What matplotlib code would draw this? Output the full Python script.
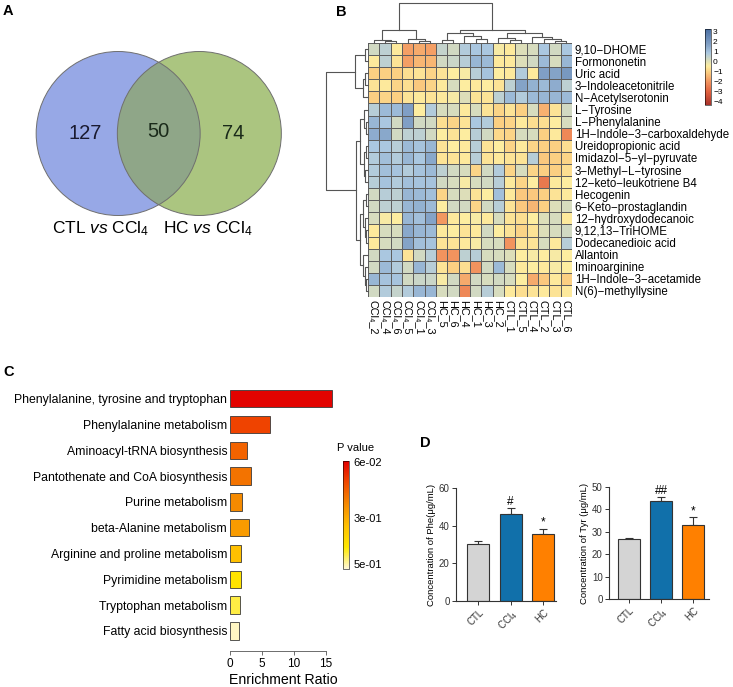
import numpy as np
import matplotlib
matplotlib.use('Agg')
import matplotlib.pyplot as plt
from matplotlib.patches import Circle
from matplotlib.colors import LinearSegmentedColormap, Normalize
import matplotlib.colorbar as mcolorbar

plt.rcParams['font.family'] = ['Liberation Sans', 'DejaVu Sans']
plt.rcParams['mathtext.fontset'] = 'custom'
plt.rcParams['mathtext.rm'] = 'Liberation Sans'
plt.rcParams['mathtext.it'] = 'Liberation Sans:italic'

# ---------------- data ----------------
venn_names = ['CTL $\\it{vs}$ CCl$_4$', 'HC $\\it{vs}$ CCl$_4$']
venn_counts = [127, 50, 74]   # left only, shared, right only

heat_rows = ['9,10-DHOME', 'Formononetin', 'Uric acid', '3-Indoleacetonitrile',
             'N-Acetylserotonin', 'L-Tyrosine', 'L-Phenylalanine',
             '1H-Indole-3-carboxaldehyde', 'Ureidopropionic acid',
             'Imidazol-5-yl-pyruvate', '3-Methyl-L-tyrosine',
             '12-keto-leukotriene B4', 'Hecogenin', '6-Keto-prostaglandin',
             '12-hydroxydodecanoic', '9,12,13-TriHOME', 'Dodecanedioic acid',
             'Allantoin', 'Iminoarginine', '1H-Indole-3-acetamide',
             'N(6)-methyllysine']
heat_cols = ['CCl\u2084_2', 'CCl\u2084_4', 'CCl\u2084_6', 'CCl\u2084_5', 'CCl\u2084_1', 'CCl\u2084_3',
             'HC_5', 'HC_6', 'HC_4', 'HC_1', 'HC_3', 'HC_2',
             'CTL_1', 'CTL_5', 'CTL_4', 'CTL_2', 'CTL_3', 'CTL_6']
heat_vals = np.array([
    [0.3, 0.6, -0.5, -1.8, -1.6, -1.8, 0.5, 0.3, 0.8, 0.9, 0.9, -0.3, -0.5, 0.1, 0.2, 0.9, 0.3, 0.9],
    [-0.5, 0.6, -0.6, -1.8, -1.4, -1.4, 0.3, 0.4, 0.7, 1.3, 1.2, -0.5, -0.5, 0.1, 0.3, 1.2, 0.2, 1.3],
    [-1.0, -1.0, -1.0, -0.7, -0.6, -0.9, -0.6, -0.4, -0.3, 0.7, 1.0, -0.4, -0.5, 0.8, -0.5, 1.8, 1.7, 2.0],
    [-0.6, -0.5, -0.9, -0.7, -1.1, -0.9, -0.5, 0.2, -0.4, -0.5, -0.4, -0.6, 0.6, 1.7, 1.4, 1.2, 1.5, 0.6],
    [-1.0, -0.9, -1.0, -0.6, -0.5, -0.6, -0.5, -0.3, 0.1, -0.6, -0.6, 0.6, 1.2, 0.8, 1.2, 1.3, 1.3, 1.2],
    [0.7, 1.2, 1.2, 1.8, -0.4, 0.8, 0.2, 0.2, -0.5, 0.2, -0.6, -0.9, -0.6, -1.0, 0.2, -1.5, -0.6, 0.3],
    [1.3, 0.9, 0.3, 1.8, 0.3, 0.3, -0.7, -0.9, -0.6, 0.9, 0.8, -1.0, -0.9, -0.5, -0.7, -0.7, -0.4, 0.2],
    [1.5, 1.6, 0.3, 0.6, 0.6, 0.3, -0.4, -0.6, -0.4, 0.7, 0.3, -0.8, -0.9, 0.2, 0.2, -1.0, -0.5, -2.2],
    [0.9, 0.9, 0.7, 1.2, 1.0, 1.3, -0.6, -0.4, -0.5, 0.7, -0.6, -0.4, -0.9, -0.5, -0.9, -1.0, -1.0, -0.7],
    [0.8, 1.1, 0.8, 1.3, 0.9, 1.6, -0.6, -0.6, -0.5, 0.7, -0.6, -0.5, -0.6, -0.6, 0.7, -1.1, -1.0, -0.9],
    [0.8, 1.1, 1.0, 0.8, 1.0, 1.2, 0.6, 0.3, 0.2, -0.9, 0.3, 0.8, -0.9, 0.2, -0.9, -1.0, -1.0, -0.7],
    [0.7, 1.0, 0.8, 1.1, 1.0, 1.0, 0.3, 0.2, -0.3, 0.2, 0.3, 0.7, -0.5, -0.9, -0.4, -2.5, -0.5, -0.4],
    [0.3, 0.7, 0.6, 1.3, 1.2, 1.1, -0.9, 0.2, 0.1, -0.6, -0.4, 1.1, -0.5, -1.1, -1.1, -1.0, -0.6, -0.5],
    [0.3, 0.6, 0.6, 1.3, 1.4, 1.2, -0.4, 0.3, 0.3, -0.9, 0.3, 0.7, -0.6, -1.1, -1.4, -1.0, 0.1, 0.2],
    [0.2, -0.3, -0.4, 1.3, 1.1, 1.7, -1.9, -0.5, -0.4, -0.3, -0.5, 0.2, -0.6, -0.7, -0.4, 0.1, 0.2, -0.5],
    [-0.5, 0.2, 0.2, 1.6, 1.3, 1.2, -0.5, -0.4, -0.6, -0.5, 0.3, -0.4, -0.6, -0.9, -0.6, 0.1, 0.2, 0.3],
    [-0.5, 0.2, 0.3, 1.7, 1.1, 1.0, -0.6, -0.6, -0.5, -0.3, 0.2, 0.2, -2.0, -0.6, -0.6, 0.2, -0.5, 0.7],
    [0.3, 0.9, 0.9, -0.6, 0.3, 0.7, -2.0, -2.0, 0.6, 0.7, 0.2, 0.2, 0.1, -0.4, -0.3, -0.4, -0.3, -0.4],
    [0.3, 1.2, 0.8, 0.3, 1.3, 0.7, -0.6, -1.0, -0.7, -2.0, 0.3, 1.2, 0.2, -0.5, -0.4, -0.5, -0.3, -0.4],
    [1.3, 1.0, 1.0, 0.3, 0.4, 0.4, -0.3, 0.3, -1.6, 0.3, 0.2, 0.3, 0.2, -0.4, -1.6, -1.1, -0.5, -1.0],
    [0.3, 0.8, 0.5, 0.8, 1.3, 1.3, 0.2, 0.3, -2.2, 0.3, 0.7, 0.2, -0.5, -0.7, -0.6, -0.5, -0.6, -0.5],
])
# dendrograms: [left, right, height], leaves are indices
col_tree = [[[0, [1, 2, 0.4], 0.8], [3, [4, 5, 0.4], 1.0], 3.3],
            [[[6, 7, 0.7], [8, [9, 10, 1.0], 1.8], 2.5],
             [[11, [12, 13, 0.7], 1.25], [14, [15, [16, 17, 0.4], 1.0], 1.5], 2.5], 3.3],
            10]
row_tree = [[[0, 1, 0.8], [[2, 3, 0.6], 4, 1.2], 3.1],
            [[[5, [6, 7, 0.5], 1.0], [[8, 9, 0.4], [10, 11, 0.6], 0.9], 1.8],
             [[[12, 13, 0.5], [14, [15, 16, 0.4], 0.7], 1.1], [17, [18, [19, 20, 0.4], 0.8], 1.3], 2.0], 2.9],
            10]

pathways = ['Phenylalanine, tyrosine and tryptophan', 'Phenylalanine metabolism',
            'Aminoacyl-tRNA biosynthesis', 'Pantothenate and CoA biosynthesis',
            'Purine metabolism', 'beta-Alanine metabolism',
            'Arginine and proline metabolism', 'Pyrimidine metabolism',
            'Tryptophan metabolism', 'Fatty acid biosynthesis']
enrich_ratio = [15.9, 6.3, 2.65, 3.3, 1.9, 3.0, 1.67, 1.65, 1.56, 1.35]
p_values = [0.06, 0.139, 0.185, 0.208, 0.241, 0.27, 0.334, 0.418, 0.455, 0.51]

groups = ['CTL', 'CCl$_4$', 'HC']
phe_mean = [30.3, 46.2, 35.6]
phe_sem = [1.7, 3.0, 2.8]
phe_sig = ['', '#', '*']
tyr_mean = [26.9, 43.9, 33.2]
tyr_sem = [0.5, 1.8, 3.3]
tyr_sig = ['', '##', '*']

# ---------------- layout helpers ----------------
W, H = 733, 687


def box(x0, y0, x1, y1):
    return [x0 / W, 1 - y1 / H, (x1 - x0) / W, (y1 - y0) / H]


fig = plt.figure(figsize=(W / 100, H / 100), dpi=100)

# ---------------- A: venn ----------------
ax = fig.add_axes(box(0, 20, 300, 250))
ax.set_xlim(-158.75 / 82, 141.25 / 82)
ax.set_ylim(-116.5 / 82, 113.5 / 82)
ax.axis('off')
d = 0.495
c1 = Circle((-d, 0), 1, fc='#97a8e6', ec='none')
c2 = Circle((d, 0), 1, fc='#abc580', ec='none')
ax.add_patch(c1)
ax.add_patch(c2)
c3 = Circle((d, 0), 1, fc='#8fa688', ec='none')
ax.add_patch(c3)
c3.set_clip_path(c1)
for cx in (-d, d):
    ax.add_patch(Circle((cx, 0), 1, fill=False, ec='#6f6f6f', lw=0.7))
ax.text(-d - 0.4, 0, str(venn_counts[0]), ha='center', va='center', fontsize=14.5, color='#1a1a30')
ax.text(0, 0.02, str(venn_counts[1]), ha='center', va='center', fontsize=14.5, color='#1a2a1a')
ax.text(d + 0.41, 0, str(venn_counts[2]), ha='center', va='center', fontsize=14.5, color='#1a2a1a')
ax.text(-0.704, -1.16, venn_names[0], ha='center', va='center', fontsize=12.5)
ax.text(0.60, -1.16, venn_names[1], ha='center', va='center', fontsize=12.5)

# ---------------- B: heatmap ----------------
nodes = [(-4.3, '#a8322a'), (-3, '#e0603e'), (-2, '#f2935e'), (-1, '#fbcf82'),
         (-0.4, '#fdeda0'), (0.9, '#abc8e0'), (1.8, '#809fc5'), (3.3, '#4a6fa3')]
heat_norm = Normalize(-4.3, 3.3)
heat_cmap = LinearSegmentedColormap.from_list(
    'heat', [((v + 4.3) / 7.6, c) for v, c in nodes])

axh = fig.add_axes(box(368, 43, 572, 297))
axh.pcolormesh(np.arange(len(heat_cols) + 1), np.arange(len(heat_rows) + 1), heat_vals,
               cmap=heat_cmap, norm=heat_norm, edgecolors='#5e5e5e', linewidth=0.6)
axh.set_xlim(0, len(heat_cols))
axh.set_ylim(len(heat_rows), 0)
for s in axh.spines.values():
    s.set_visible(False)
axh.set_yticks(np.arange(len(heat_rows)) + 0.5)
axh.set_yticklabels([r.replace('-', '\u2212') for r in heat_rows], fontsize=8.3)
axh.yaxis.tick_right()
axh.set_xticks(np.arange(len(heat_cols)) + 0.5)
axh.set_xticklabels(heat_cols, rotation=270, fontsize=7.8)
axh.tick_params(length=0, pad=2)


def draw_tree(ax, node, orient):
    if isinstance(node, int):
        return node + 0.5, 0
    pl, hl = draw_tree(ax, node[0], orient)
    pr, hr = draw_tree(ax, node[1], orient)
    h = node[2]
    if orient == 'top':
        ax.plot([pl, pl, pr, pr], [hl, h, h, hr], color='#555555', lw=0.8, clip_on=False)
    else:
        ax.plot([hl, h, h, hr], [pl, pl, pr, pr], color='#555555', lw=0.8, clip_on=False)
    return (pl + pr) / 2, h


axt = fig.add_axes(box(368, 3, 572, 43))
axt.set_xlim(0, len(heat_cols))
axt.set_ylim(0, 10)
axt.axis('off')
draw_tree(axt, col_tree, 'top')

axl = fig.add_axes(box(326, 43, 368, 297))
axl.set_xlim(10, 0)
axl.set_ylim(len(heat_rows), 0)
axl.axis('off')
draw_tree(axl, row_tree, 'left')

cax = fig.add_axes(box(705, 29, 711, 105))
cb = mcolorbar.ColorbarBase(cax, cmap=heat_cmap, norm=heat_norm)
cb.set_ticks(range(-4, 4))
cb.outline.set_linewidth(0.4)
cax.tick_params(length=0, labelsize=6, pad=1.5)

# ---------------- C: enrichment bars ----------------
p_cmap = LinearSegmentedColormap.from_list(
    'pv', ['#e20000', '#f04a00', '#f58a00', '#ffc000', '#ffe800', '#fff8d8'])
p_norm = Normalize(0.055, 0.52)

axc = fig.add_axes(box(230, 385, 336, 651))
yy = np.arange(len(pathways))
axc.barh(yy, enrich_ratio, height=0.67, color=p_cmap(p_norm(p_values)),
         edgecolor='#3a3a3a', linewidth=0.6)
axc.set_ylim(9.78, -0.53)
axc.set_xlim(0, 16.56)
axc.set_yticks(yy)
axc.set_yticklabels(pathways, fontsize=8.8)
axc.tick_params(axis='y', length=0, pad=2)
axc.set_xticks([0, 5, 10, 15])
axc.tick_params(axis='x', length=3, width=0.6, labelsize=8.5, pad=2, color='#555555')
for s in ['top', 'right', 'left']:
    axc.spines[s].set_visible(False)
axc.spines['bottom'].set_bounds(0, 15)
axc.spines['bottom'].set_color('#555555')
axc.spines['bottom'].set_linewidth(0.6)
axc.set_xlabel('Enrichment Ratio', fontsize=10.2, labelpad=2)

cax2 = fig.add_axes(box(343, 461, 349, 569))
cb2 = mcolorbar.ColorbarBase(cax2, cmap=p_cmap, norm=p_norm)
cax2.invert_yaxis()
cb2.set_ticks([0.06, 0.3, 0.5])
cb2.set_ticklabels(['6e-02', '3e-01', '5e-01'])
cb2.outline.set_linewidth(0.4)
cax2.tick_params(length=0, labelsize=8, pad=3)
fig.text(337 / W, 1 - 448 / H, 'P value', fontsize=8, va='center')

# ---------------- D: concentration bars ----------------
d_colors = ['#d4d4d4', '#1170aa', '#ff8000']


def bar_panel(rect, means, sems, sigs, ymax, ystep, ylabel, xlim):
    ax = fig.add_axes(rect)
    x = np.arange(len(groups))
    ax.bar(x, means, width=0.68, color=d_colors, edgecolor='#333333', linewidth=0.8, zorder=2)
    ax.errorbar(x, means, yerr=[np.zeros(len(x)), sems], fmt='none', ecolor='#333333',
                elinewidth=0.8, capsize=3, capthick=0.8, zorder=1)
    for xi, m, s, t in zip(x, means, sems, sigs):
        if t:
            ax.text(xi, m + s, t, ha='center', va='bottom', fontsize=8.5)
    ax.set_xlim(*xlim)
    ax.set_ylim(0, ymax)
    ax.set_yticks(np.arange(0, ymax + 1, ystep))
    ax.set_xticks(x)
    ax.set_xticklabels(groups, rotation=45, ha='right', rotation_mode='anchor')
    ax.tick_params(labelsize=7, length=3, width=0.7, pad=1.5, colors='#333333')
    for s in ['top', 'right']:
        ax.spines[s].set_visible(False)
    for s in ['left', 'bottom']:
        ax.spines[s].set_linewidth(0.8)
        ax.spines[s].set_color('#333333')
    ax.set_ylabel(ylabel, fontsize=6.8, labelpad=2)
    return ax


bar_panel(box(456, 488, 556, 601), phe_mean, phe_sem, phe_sig, 60, 20,
          'Concentration of Phe(\u03bcg/mL)', (-0.69, 2.4))
bar_panel(box(609, 487, 709, 599), tyr_mean, tyr_sem, tyr_sig, 50, 10,
          'Concentration of Tyr (\u03bcg/mL)', (-0.63, 2.5))

# ---------------- panel letters ----------------
for lab, px, py in [('A', 3, 4), ('B', 336, 5), ('C', 3, 365), ('D', 420, 436)]:
    fig.text(px / W, 1 - py / H, lab, fontsize=10.5, fontweight='bold', va='top', ha='left')

fig.savefig('out.png', dpi=100)
